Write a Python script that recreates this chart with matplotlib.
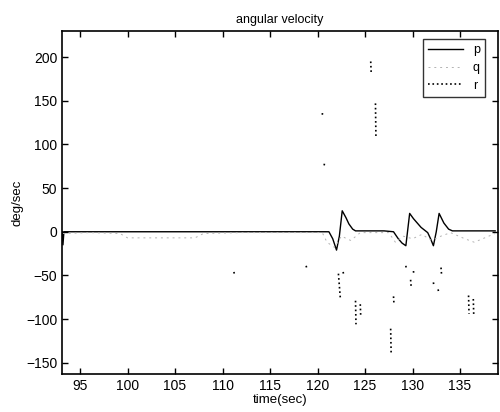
import numpy as np
import matplotlib.pyplot as plt

plt.rcParams['font.family'] = ['Liberation Sans', 'DejaVu Sans']

# p (roll rate)
t_p = [93.15, 93.2, 93.3, 95, 100, 105, 110, 115, 120, 121.2, 121.6, 122.0,
       122.3, 122.6, 123.0, 123.3, 123.7, 124.0, 127.0, 128.0, 128.5, 128.9,
       129.3, 129.7, 130.1, 130.5, 130.9, 131.6, 131.9, 132.2, 132.5, 132.8,
       133.3, 133.8, 134.2, 138.7]
p = [0, -15, 0, 0, 0, 0, 0, 0, 0, 0, -8, -21,
     -5, 24, 16, 9, 3, 1, 1, 0, -8, -13,
     -16, 21, 15, 10, 5, -1, -8, -16, 0, 21,
     10, 3, 1, 1]

# q (pitch rate)
t_q = [93.2, 96, 99.2, 100, 103, 107.1, 108, 112, 117, 120.5, 121.0, 121.8,
       122.5, 123.5, 124.5, 127.5, 128.2, 129.0, 130.0, 131.0, 132.0, 133.0,
       134.0, 135.5, 136.5, 138.7]
q = [-2, -1, -2, -7, -7, -7, -2, -1, -1, -1, -12, -18,
     -5, -10, -1, -1, -12, -5, -8, -3, -10, -5,
     -1, -8, -12, -2]

# r (yaw rate), gaps where the trace is missing
t_r = [111.2, 111.25, np.nan,
       118.8, 118.85, np.nan,
       120.5, 120.55, np.nan,
       120.7, 120.75, np.nan,
       122.2, 122.3, 122.4, np.nan,
       122.7, 122.75, np.nan,
       124.0, 124.05, np.nan,
       124.5, 124.55, np.nan,
       125.6, 125.65, np.nan,
       126.1, 126.15, np.nan,
       127.7, 127.75, np.nan,
       128.0, 128.05, np.nan,
       129.3, 129.35, np.nan,
       129.8, 129.85, np.nan,
       130.1, 130.15, np.nan,
       132.2, 132.25, np.nan,
       132.7, 132.75, np.nan,
       133.0, 133.05, np.nan,
       135.9, 135.95, np.nan,
       136.4, 136.45]
r = [-46, -49, np.nan,
     -39, -41, np.nan,
     134, 138, np.nan,
     76, 80, np.nan,
     -48, -62, -76, np.nan,
     -46, -50, np.nan,
     -79, -106, np.nan,
     -83, -97, np.nan,
     195, 182, np.nan,
     147, 108, np.nan,
     -111, -139, np.nan,
     -74, -83, np.nan,
     -39, -43, np.nan,
     -55, -62, np.nan,
     -45, -50, np.nan,
     -58, -62, np.nan,
     -66, -70, np.nan,
     -41, -48, np.nan,
     -73, -94, np.nan,
     -77, -97]

x_ticks = [95, 100, 105, 110, 115, 120, 125, 130, 135]
y_ticks = [-150, -100, -50, 0, 50, 100, 150, 200]

fig = plt.figure(figsize=(5, 4.12), dpi=100)
ax = fig.add_axes([0.124, 0.092, 0.872, 0.833])

ax.plot(t_p, p, color='black', linewidth=1.0, label='p')
ax.plot(t_q, q, color='0.7', linewidth=0.7, linestyle='--', dashes=(2, 4), label='q')
ax.plot(t_r, r, color='black', linewidth=1.2, linestyle=':', label='r')

ax.set_xlim(93.1, 139)
ax.set_ylim(-163, 230)
ax.set_xticks(x_ticks)
ax.set_yticks(y_ticks)
ax.tick_params(direction='in', top=True, right=True, length=4, width=1,
               labelsize=10)
for s in ax.spines.values():
    s.set_linewidth(1.2)

ax.set_title('angular velocity', fontsize=9)
ax.set_xlabel('time(sec)', fontsize=9.5, labelpad=1)
ax.set_ylabel('deg/sec', fontsize=9.5, labelpad=2)

leg = ax.legend(loc='upper right', bbox_to_anchor=(0.97, 0.975), fontsize=9,
                frameon=True, fancybox=False, handlelength=2.8,
                borderaxespad=0, labelspacing=0.45, borderpad=0.4)
leg.get_frame().set_edgecolor('black')
leg.get_frame().set_linewidth(1.0)

fig.savefig('out.png', dpi=100)
